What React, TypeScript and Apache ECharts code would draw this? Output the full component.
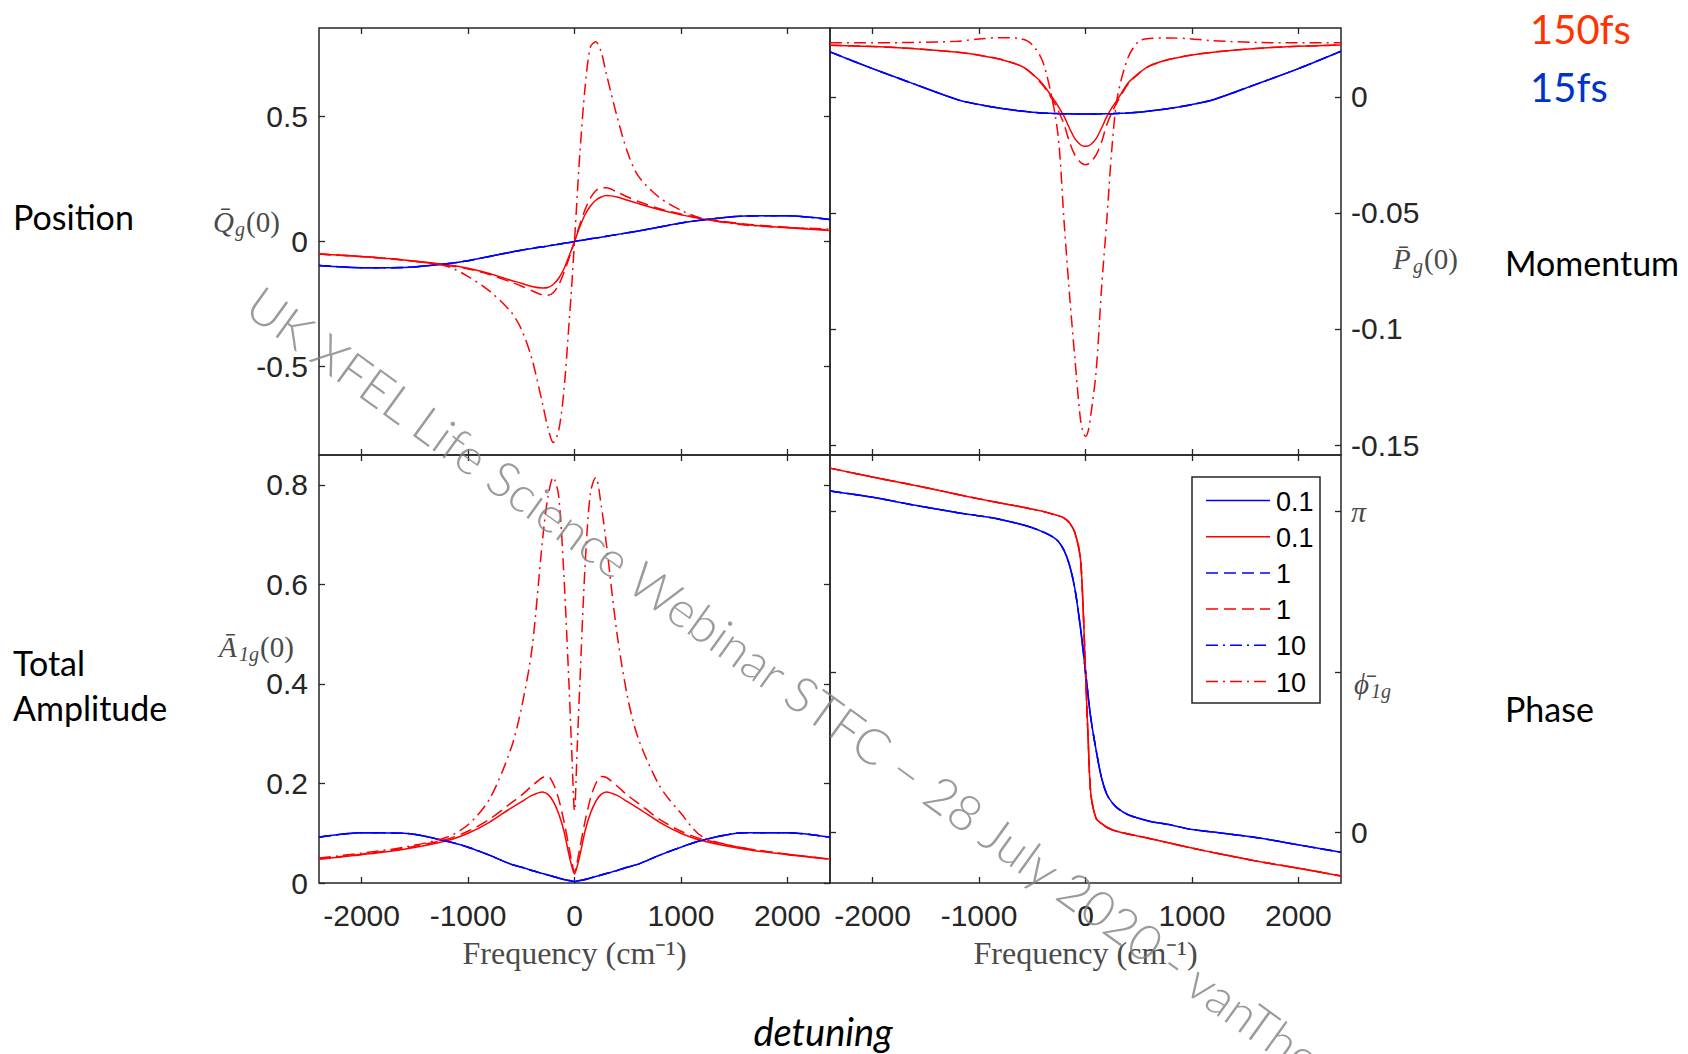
import React, { useEffect, useRef } from "react";
import * as echarts from "echarts";

// ---------------- data ----------------
const frequency = [-2400, -2000, -1600, -1200, -1000, -800, -600, -500, -400, -300, -250, -200, -150, -100, -50, -25, 0, 25, 50, 100, 150, 200, 250, 300, 400, 500, 600, 800, 1000, 1200, 1600, 2000, 2400];

// Position Q_g(0)
const positionBlue = [-0.096, -0.105, -0.104, -0.089, -0.077, -0.060, -0.043, -0.035, -0.028, -0.021, -0.018, -0.014, -0.011, -0.007, -0.004, -0.002, 0, 0.002, 0.004, 0.007, 0.011, 0.014, 0.017, 0.021, 0.028, 0.035, 0.042, 0.058, 0.074, 0.086, 0.102, 0.103, 0.088];
const positionRed01 = [-0.050, -0.060, -0.074, -0.093, -0.107, -0.128, -0.155, -0.167, -0.180, -0.186, -0.184, -0.172, -0.148, -0.110, -0.057, -0.029, 0, 0.030, 0.059, 0.108, 0.142, 0.165, 0.178, 0.184, 0.178, 0.165, 0.152, 0.127, 0.107, 0.090, 0.068, 0.055, 0.044];
const positionRed1 = [-0.050, -0.061, -0.075, -0.095, -0.110, -0.132, -0.162, -0.178, -0.197, -0.214, -0.215, -0.205, -0.175, -0.125, -0.065, -0.033, 0, 0.035, 0.068, 0.128, 0.175, 0.203, 0.215, 0.215, 0.198, 0.178, 0.160, 0.131, 0.110, 0.093, 0.070, 0.057, 0.046];
const positionRed10 = [-0.050, -0.060, -0.075, -0.099, -0.140, -0.198, -0.280, -0.350, -0.470, -0.650, -0.745, -0.805, -0.760, -0.600, -0.320, -0.170, 0, 0.180, 0.350, 0.620, 0.780, 0.800, 0.760, 0.670, 0.500, 0.355, 0.262, 0.175, 0.125, 0.092, 0.066, 0.056, 0.050];

// Momentum P_g(0)
const momentumBlue = [0.0194, 0.0122, 0.0054, -0.0012, -0.0033, -0.0049, -0.0061, -0.0066, -0.0069, -0.0071, -0.0072, -0.0073, -0.0073, -0.0074, -0.0074, -0.0074, -0.0074, -0.0074, -0.0074, -0.0074, -0.0073, -0.0073, -0.0072, -0.0071, -0.0069, -0.0066, -0.0061, -0.0049, -0.0033, -0.0012, 0.0054, 0.0122, 0.0197];
const momentumRed01 = [0.0223, 0.0217, 0.0208, 0.0192, 0.0180, 0.0162, 0.0132, 0.0100, 0.0055, -0.0010, -0.0045, -0.0085, -0.0135, -0.0180, -0.0205, -0.0211, -0.0213, -0.0211, -0.0205, -0.0180, -0.0135, -0.0085, -0.0045, -0.0012, 0.0060, 0.0102, 0.0134, 0.0163, 0.0181, 0.0193, 0.0209, 0.0218, 0.0224];
const momentumRed1 = [0.0223, 0.0217, 0.0208, 0.0192, 0.0180, 0.0162, 0.0132, 0.0098, 0.0050, -0.0020, -0.0065, -0.0120, -0.0195, -0.0250, -0.0280, -0.0289, -0.0292, -0.0289, -0.0280, -0.0250, -0.0195, -0.0120, -0.0065, -0.0020, 0.0055, 0.0100, 0.0133, 0.0163, 0.0181, 0.0193, 0.0209, 0.0218, 0.0224];
const momentumRed10 = [0.0233, 0.0233, 0.0235, 0.0240, 0.0250, 0.0255, 0.0250, 0.0225, 0.0150, -0.0040, -0.0200, -0.0545, -0.0852, -0.1125, -0.1380, -0.1440, -0.1463, -0.1440, -0.1370, -0.1183, -0.0830, -0.0530, -0.0210, 0.0000, 0.0170, 0.0240, 0.0252, 0.0254, 0.0250, 0.0242, 0.0235, 0.0233, 0.0233];

// Total amplitude A_1g(0)
const amplitudeBlue = [0.092, 0.101, 0.100, 0.084, 0.072, 0.056, 0.038, 0.032, 0.025, 0.019, 0.016, 0.013, 0.010, 0.007, 0.005, 0.004, 0.003, 0.004, 0.005, 0.007, 0.010, 0.013, 0.016, 0.019, 0.025, 0.032, 0.038, 0.056, 0.072, 0.086, 0.101, 0.101, 0.092];
const amplitudeRed01 = [0.048, 0.057, 0.068, 0.085, 0.100, 0.122, 0.150, 0.163, 0.176, 0.183, 0.178, 0.164, 0.140, 0.105, 0.055, 0.033, 0.018, 0.033, 0.055, 0.105, 0.140, 0.164, 0.178, 0.183, 0.176, 0.163, 0.150, 0.122, 0.100, 0.085, 0.068, 0.057, 0.048];
const amplitudeRed1 = [0.048, 0.058, 0.070, 0.088, 0.104, 0.128, 0.160, 0.176, 0.195, 0.212, 0.214, 0.200, 0.170, 0.125, 0.070, 0.042, 0.022, 0.042, 0.070, 0.125, 0.170, 0.200, 0.214, 0.212, 0.195, 0.176, 0.160, 0.128, 0.104, 0.088, 0.070, 0.058, 0.048];
const amplitudeRed10 = [0.050, 0.060, 0.072, 0.092, 0.117, 0.168, 0.268, 0.350, 0.470, 0.690, 0.775, 0.815, 0.780, 0.620, 0.390, 0.260, 0.145, 0.270, 0.400, 0.640, 0.785, 0.815, 0.760, 0.680, 0.500, 0.372, 0.290, 0.195, 0.140, 0.093, 0.070, 0.058, 0.048];

// Phase phi_1g, in units of pi
const phaseBlue = [1.0645, 1.045, 1.020, 0.997, 0.987, 0.976, 0.960, 0.950, 0.937, 0.920, 0.905, 0.878, 0.833, 0.760, 0.645, 0.575, 0.500, 0.425, 0.355, 0.255, 0.170, 0.118, 0.092, 0.075, 0.054, 0.043, 0.034, 0.022, 0.008, 0.000, -0.017, -0.040, -0.063];
const phaseRed = [1.136, 1.108, 1.082, 1.054, 1.040, 1.027, 1.015, 1.008, 1.001, 0.992, 0.987, 0.980, 0.965, 0.935, 0.860, 0.720, 0.500, 0.290, 0.120, 0.042, 0.027, 0.015, 0.007, 0.002, -0.006, -0.013, -0.020, -0.035, -0.050, -0.064, -0.090, -0.113, -0.137];

// tick values
const frequencyTicks = [-2000, -1000, 0, 1000, 2000];
const positionTicks = [-0.5, 0, 0.5];
const momentumTicks = [-0.15, -0.1, -0.05, 0];
const amplitudeTicks = [0, 0.2, 0.4, 0.6, 0.8];
const phaseTicks = [0, 0.5, 1];
const legendLabels = ["0.1", "0.1", "1", "1", "10", "10"];

// ---------------- styles ----------------
const BLUE = "#0000ff";
const RED = "#ff0000";
const AXIS = "#262626";
const LATEX = "#4a4a4a";
const SANS = "'Liberation Sans', Arial, Helvetica, sans-serif";
const SERIF = "'Liberation Serif', 'Times New Roman', serif";
const SLIDE = "Lato, 'Open Sans', sans-serif";
const DASHED = [12, 6];
const DASHDOT = [12, 5, 2, 5];

const seriesStyles = [
  { key: "b01", color: BLUE, type: "solid" as any },
  { key: "r01", color: RED, type: "solid" as any },
  { key: "b1", color: BLUE, type: DASHED as any },
  { key: "r1", color: RED, type: DASHED as any },
  { key: "b10", color: BLUE, type: DASHDOT as any },
  { key: "r10", color: RED, type: DASHDOT as any },
];

const panels = [
  {
    grid: { left: 319, top: 28, width: 511, height: 427 },
    yMin: -0.855, yMax: 0.855, yTicks: positionTicks, ySide: "left", xLabels: false,
    lines: [positionBlue, positionRed01, positionBlue, positionRed1, positionBlue, positionRed10],
    fmt: (v: number) => String(v),
  },
  {
    grid: { left: 830, top: 28, width: 511, height: 427 },
    yMin: -0.1543, yMax: 0.0297, yTicks: momentumTicks, ySide: "right", xLabels: false,
    lines: [momentumBlue, momentumRed01, momentumBlue, momentumRed1, momentumBlue, momentumRed10],
    fmt: (v: number) => String(v),
  },
  {
    grid: { left: 319, top: 455, width: 511, height: 428 },
    yMin: 0, yMax: 0.86, yTicks: amplitudeTicks, ySide: "left", xLabels: true,
    lines: [amplitudeBlue, amplitudeRed01, amplitudeBlue, amplitudeRed1, amplitudeBlue, amplitudeRed10],
    fmt: (v: number) => String(v),
  },
  {
    grid: { left: 830, top: 455, width: 511, height: 428 },
    yMin: -0.159, yMax: 1.177, yTicks: phaseTicks, ySide: "right", xLabels: true,
    lines: [phaseBlue, phaseRed, phaseBlue, phaseRed, phaseBlue, phaseRed],
    fmt: (v: number) => (v === 1 ? "{pi|π}" : v === 0 ? "0" : ""),
  },
];

function buildOption() {
  const tick = (values: number[]) => ({
    show: true,
    inside: true,
    length: 6,
    customValues: values,
    lineStyle: { color: AXIS, width: 1.3 },
  });
  const labelFont = { fontFamily: SANS, fontSize: 30, color: AXIS };
  const hiddenLine = { show: false, onZero: false };

  const grid: any[] = [];
  const xAxis: any[] = [];
  const yAxis: any[] = [];
  const series: any[] = [];

  panels.forEach((p, g) => {
    grid.push({ ...p.grid, show: true, borderColor: AXIS, borderWidth: 1.5, backgroundColor: "transparent" });
    const xBase = {
      type: "value", gridIndex: g, min: -2400, max: 2400,
      splitLine: { show: false }, axisLine: hiddenLine,
    };
    xAxis.push({
      ...xBase, position: "bottom",
      axisTick: tick(frequencyTicks),
      axisLabel: {
        show: p.xLabels, customValues: frequencyTicks, margin: 17,
        formatter: (v: number) => String(v), ...labelFont,
      },
      name: p.xLabels ? "Frequency (cm⁻¹)" : "",
      nameLocation: "middle", nameGap: 54,
      nameTextStyle: { fontFamily: SERIF, fontSize: 32, color: LATEX },
    });
    xAxis.push({
      ...xBase, position: "top",
      axisTick: tick(frequencyTicks), axisLabel: { show: false },
    });
    const yBase = {
      type: "value", gridIndex: g, min: p.yMin, max: p.yMax,
      splitLine: { show: false }, axisLine: hiddenLine,
    };
    const other = p.ySide === "left" ? "right" : "left";
    yAxis.push({
      ...yBase, position: p.ySide,
      axisTick: tick(p.yTicks),
      axisLabel: {
        show: true, customValues: p.yTicks, margin: p.ySide === "left" ? 11 : 10,
        formatter: p.fmt, ...labelFont,
        rich: { pi: { fontFamily: SERIF, fontStyle: "italic", fontSize: 30, color: LATEX } },
      },
    });
    yAxis.push({
      ...yBase, position: other,
      axisTick: tick(p.yTicks), axisLabel: { show: false },
    });
    p.lines.forEach((arr, i) => {
      const st = seriesStyles[i];
      series.push({
        name: st.key,
        type: "line",
        xAxisIndex: 2 * g,
        yAxisIndex: 2 * g,
        data: frequency.map((f, k) => [f, arr[k]]),
        symbol: "none",
        showSymbol: false,
        smooth: 0.3,
        clip: true,
        silent: true,
        lineStyle: { color: st.color, width: 1.5, type: st.type },
        z: 3 + i,
      });
    });
  });

  const txt = (text: string, x: number, y: number, font: string, fill: string, align = "left", vAlign = "middle", extra: any = {}) => ({
    type: "text", x, y, z: 50, silent: true, ...extra,
    style: { text, font, fill, textAlign: align, align, textVerticalAlign: vAlign, verticalAlign: vAlign },
  });

  // legend (drawn manually so that the duplicated labels stay separate)
  const legendX = 1192, legendY = 477, legendW = 128, legendH = 226;
  const legendEls: any[] = [
    {
      type: "rect", z: 40, silent: true,
      shape: { x: legendX, y: legendY, width: legendW, height: legendH },
      style: { fill: "#ffffff", stroke: AXIS, lineWidth: 1.5 },
    },
  ];
  seriesStyles.forEach((st, i) => {
    const yc = 500.5 + i * 36.2;
    legendEls.push({
      type: "line", z: 41, silent: true,
      shape: { x1: 1206, y1: yc, x2: 1270, y2: yc },
      style: {
        stroke: st.color, lineWidth: 1.5,
        lineDash: st.type === "solid" ? null : st.type,
      },
    });
    legendEls.push(txt(legendLabels[i], 1276, yc + 1, `27px ${SANS}`, "#000", "left", "middle", { z: 42 }));
  });

  const serifIt = (s: number) => `italic ${s}px ${SERIF}`;
  const serif = (s: number) => `${s}px ${SERIF}`;

  const graphic: any[] = [
    // slide labels
    txt("Position", 13, 216, `34px ${SLIDE}`, "#000"),
    txt("Momentum", 1505, 262, `34px ${SLIDE}`, "#000"),
    txt("Total", 13, 662, `34px ${SLIDE}`, "#000"),
    txt("Amplitude", 13, 707, `34px ${SLIDE}`, "#000"),
    txt("Phase", 1505, 708, `34px ${SLIDE}`, "#000"),
    txt("150fs", 1530, 29, `40px ${SLIDE}`, "#ff3300"),
    txt("15fs", 1530, 87, `40px ${SLIDE}`, "#0033cc"),
    txt("detuning", 823, 1031, `italic 38px ${SLIDE}`, "#000", "center"),
    // axis names (LaTeX style)
    txt("Q\u0304", 213, 222, serifIt(29), LATEX),
    txt("g", 235, 229, serifIt(20), LATEX),
    txt("(0)", 246, 222, serif(29), LATEX),
    txt("P\u0304", 1393, 259, serifIt(29), LATEX),
    txt("g", 1413, 266, serifIt(20), LATEX),
    txt("(0)", 1424, 259, serif(29), LATEX),
    txt("A\u0304", 219, 647, serifIt(29), LATEX),
    txt("1g", 239, 654, serifIt(20), LATEX),
    txt("(0)", 260, 647, serif(29), LATEX),
    txt("\u03D5\u0304", 1354, 684, serifIt(29), LATEX),
    txt("1g", 1371, 691, serifIt(20), LATEX),
    ...legendEls,
    // watermark
    txt("UK XFEL Life Science Webinar STFC – 28 July 2020 - vanThor", 268, 277, `300 49.5px ${SLIDE}`, "rgba(130,130,130,0.8)", "left", "top", {
      rotation: (-35.8 * Math.PI) / 180, z: 60,
    }),
  ];

  return {
    animation: false,
    backgroundColor: "#ffffff",
    grid,
    xAxis,
    yAxis,
    series,
    graphic: { elements: graphic },
  };
}

export default function App() {
  const ref = useRef<HTMLDivElement>(null);
  useEffect(() => {
    if (!ref.current) return;
    const chart = echarts.init(ref.current, undefined, { renderer: "svg" });
    chart.setOption(buildOption() as any);
    return () => chart.dispose();
  }, []);
  return (
    <div
      ref={ref}
      style={{ position: "fixed", left: 0, top: 0, width: 1688, height: 1054, background: "#ffffff" }}
    />
  );
}
